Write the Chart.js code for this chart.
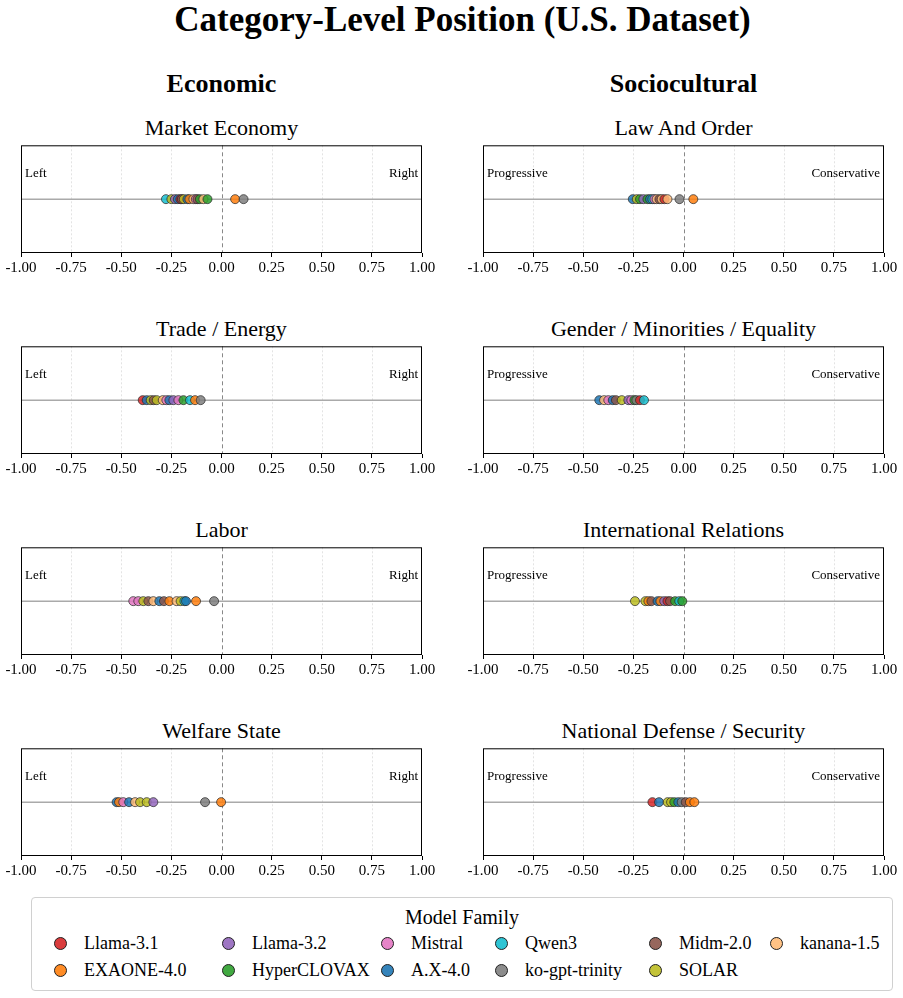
<!DOCTYPE html>
<html>
<head>
<meta charset="utf-8">
<script src="https://cdn.jsdelivr.net/npm/chart.js@4/dist/chart.umd.min.js"></script>
<style>
  html, body { margin:0; padding:0; background:#fff; overflow:hidden; }
  body { width:903px; height:998px; position:relative; font-family:"Liberation Serif", "Times New Roman", serif; color:#000; }
  .abs { position:absolute; white-space:nowrap; }
  .title { left:11px; width:903px; top:0; text-align:center; font-size:35px; font-weight:bold; line-height:40px; }
  .colhead { font-size:26px; font-weight:bold; text-align:center; width:401px; line-height:30px; }
  .subtitle { font-size:22px; text-align:center; width:401px; line-height:26px; }
  .side { font-size:13px; line-height:16px; }
  canvas.panel { position:absolute; }
  #legend { position:absolute; left:31px; top:897px; width:860px; height:92px; border:1px solid #d0d0d0; border-radius:4px; }
  #legend .ltitle { position:absolute; left:0; width:100%; top:7px; text-align:center; font-size:20px; line-height:24px; }
  #legend .item { position:absolute; font-size:18px; line-height:20px; white-space:nowrap; }
  #legend .dot { position:absolute; width:11px; height:11px; border-radius:50%; border:1px solid #222; }
</style>
</head>
<body>
<div class="abs title">Category-Level Position (U.S. Dataset)</div>
<div id="fig"></div>
<div id="legend"><div class="ltitle">Model Family</div></div>

<script>
/* ---- data: model family + position on -1 (Left/Progressive) .. +1 (Right/Conservative) ---- */
const families = ["Llama-3.1","EXAONE-4.0","Llama-3.2","HyperCLOVAX","Mistral","A.X-4.0",
                  "Qwen3","ko-gpt-trinity","Midm-2.0","SOLAR","kanana-1.5"];
const familyColors = ["#d62728","#ff7f0e","#9467bd","#2ca02c","#e377c2","#1f77b4",
                      "#17becf","#7f7f7f","#8c564b","#bcbd22","#ffbb78"];
const xTicks = [-1, -0.75, -0.5, -0.25, 0, 0.25, 0.5, 0.75, 1];

const marketEconomy = [
  ["Qwen3",-0.277],["SOLAR",-0.25],["Llama-3.2",-0.232],["A.X-4.0",-0.218],["Llama-3.1",-0.205],
  ["Midm-2.0",-0.198],["SOLAR",-0.188],["A.X-4.0",-0.17],["EXAONE-4.0",-0.16],["kanana-1.5",-0.14],
  ["Mistral",-0.128],["Midm-2.0",-0.12],["HyperCLOVAX",-0.108],["kanana-1.5",-0.09],
  ["HyperCLOVAX",-0.07],["EXAONE-4.0",0.068],["ko-gpt-trinity",0.11]
];
const lawAndOrder = [
  ["A.X-4.0",-0.253],["SOLAR",-0.233],["HyperCLOVAX",-0.217],["Llama-3.2",-0.2],["HyperCLOVAX",-0.18],
  ["A.X-4.0",-0.167],["Qwen3",-0.155],["Mistral",-0.145],["kanana-1.5",-0.134],["Midm-2.0",-0.12],
  ["kanana-1.5",-0.109],["Llama-3.1",-0.095],["kanana-1.5",-0.08],["ko-gpt-trinity",-0.02],["EXAONE-4.0",0.049]
];
const tradeEnergy = [
  ["Llama-3.1",-0.393],["A.X-4.0",-0.373],["SOLAR",-0.353],["Midm-2.0",-0.338],["SOLAR",-0.323],
  ["kanana-1.5",-0.293],["Mistral",-0.275],["A.X-4.0",-0.26],["Llama-3.2",-0.24],["Mistral",-0.215],
  ["HyperCLOVAX",-0.19],["Qwen3",-0.157],["EXAONE-4.0",-0.132],["ko-gpt-trinity",-0.104]
];
const genderMinorities = [
  ["A.X-4.0",-0.42],["kanana-1.5",-0.396],["Mistral",-0.375],["A.X-4.0",-0.353],["Midm-2.0",-0.337],
  ["SOLAR",-0.308],["Llama-3.2",-0.275],["Mistral",-0.26],["HyperCLOVAX",-0.245],["ko-gpt-trinity",-0.235],
  ["Llama-3.1",-0.217],["Qwen3",-0.197]
];
const labor = [
  ["Mistral",-0.44],["Mistral",-0.415],["SOLAR",-0.39],["Midm-2.0",-0.365],["kanana-1.5",-0.34],
  ["A.X-4.0",-0.31],["Midm-2.0",-0.287],["EXAONE-4.0",-0.26],["kanana-1.5",-0.224],["SOLAR",-0.204],
  ["Qwen3",-0.185],["A.X-4.0",-0.177],["EXAONE-4.0",-0.127],["ko-gpt-trinity",-0.037]
];
const internationalRelations = [
  ["SOLAR",-0.242],["SOLAR",-0.19],["EXAONE-4.0",-0.175],["Midm-2.0",-0.16],["A.X-4.0",-0.129],
  ["EXAONE-4.0",-0.115],["Llama-3.2",-0.096],["Llama-3.1",-0.08],["Midm-2.0",-0.067],
  ["HyperCLOVAX",-0.042],["Qwen3",-0.021],["HyperCLOVAX",-0.006]
];
const welfareState = [
  ["A.X-4.0",-0.523],["EXAONE-4.0",-0.511],["Mistral",-0.49],["A.X-4.0",-0.461],["kanana-1.5",-0.431],
  ["SOLAR",-0.406],["SOLAR",-0.373],["Llama-3.2",-0.34],["ko-gpt-trinity",-0.082],["EXAONE-4.0",-0.002]
];
const nationalDefense = [
  ["Llama-3.1",-0.155],["A.X-4.0",-0.122],["SOLAR",-0.079],["SOLAR",-0.062],["HyperCLOVAX",-0.046],
  ["A.X-4.0",-0.026],["ko-gpt-trinity",-0.009],["Midm-2.0",0.011],["EXAONE-4.0",0.032],["EXAONE-4.0",0.054]
];

const economicTitles = ["Market Economy","Trade / Energy","Labor","Welfare State"];
const economicData   = [marketEconomy, tradeEnergy, labor, welfareState];
const socialTitles   = ["Law And Order","Gender / Minorities / Equality","International Relations","National Defense / Security"];
const socialData     = [lawAndOrder, genderMinorities, internationalRelations, nationalDefense];

/* ---- layout ---- */
const BOX_W = 401, BOX_H = 109, PAD = 21, AXIS_H = 30, PAD_TOP = 4;
const COL_X = [21, 483];
const ROW_Y = [144, 345, 546, 747];
const fig = document.getElementById("fig");

function addDiv(cls, text, left, top, extra) {
  const d = document.createElement("div");
  d.className = "abs " + cls;
  d.textContent = text;
  d.style.left = left + "px";
  d.style.top = top + "px";
  if (extra) Object.assign(d.style, extra);
  fig.appendChild(d);
  return d;
}

const rgba = (hex, a) => {
  const n = parseInt(hex.slice(1), 16);
  return `rgba(${n >> 16},${(n >> 8) & 255},${n & 255},${a})`;
};

// grid lines, zero lines and box frame drawn under / over the points
const framePlugin = {
  id: "frame",
  beforeDatasetsDraw(chart) {
    const {ctx, chartArea: a, scales: {x, y}} = chart;
    ctx.save();
    ctx.lineWidth = 0.8;
    ctx.strokeStyle = "#dcdcdc";
    ctx.setLineDash([2, 2]);
    xTicks.forEach(t => {
      if (t === 0 || t === -1 || t === 1) return;
      const px = Math.round(x.getPixelForValue(t)) + 0.5;
      ctx.beginPath(); ctx.moveTo(px, a.top); ctx.lineTo(px, a.bottom); ctx.stroke();
    });
    // dashed centre line
    ctx.strokeStyle = "#888";
    ctx.lineWidth = 1;
    ctx.setLineDash([4, 3]);
    const zx = Math.round(x.getPixelForValue(0)) + 0.5;
    ctx.beginPath(); ctx.moveTo(zx, a.top); ctx.lineTo(zx, a.bottom); ctx.stroke();
    // horizontal baseline
    ctx.setLineDash([]);
    ctx.strokeStyle = "#aaa";
    ctx.lineWidth = 1.5;
    const zy = y.getPixelForValue(0);
    ctx.beginPath(); ctx.moveTo(a.left, zy); ctx.lineTo(a.right, zy); ctx.stroke();
    ctx.restore();
  },
  afterDraw(chart) {
    const {ctx, chartArea: a} = chart;
    ctx.save();
    ctx.strokeStyle = "#000";
    ctx.lineWidth = 1;
    ctx.strokeRect(a.left + 0.5, a.top + 0.5, a.right - a.left - 1, a.bottom - a.top - 1);
    ctx.restore();
  }
};

function makePanel(col, row, title, pts, leftLabel, rightLabel) {
  const bx = COL_X[col], by = ROW_Y[row];
  addDiv("subtitle", title, bx, by - 29);
  const cv = document.createElement("canvas");
  cv.className = "panel";
  cv.width = BOX_W + 2 * PAD;
  cv.height = BOX_H + PAD_TOP + AXIS_H;
  cv.style.left = (bx - PAD) + "px";
  cv.style.top = (by - PAD_TOP) + "px";
  cv.style.width = cv.width + "px";
  cv.style.height = cv.height + "px";
  fig.appendChild(cv);
  addDiv("side", leftLabel, bx + 4, by + 21);
  addDiv("side", rightLabel, bx + BOX_W - 4, by + 21, {transform: "translateX(-100%)"});

  new Chart(cv, {
    type: "scatter",
    data: {
      datasets: [{
        data: pts.map(p => ({x: p[1], y: 0})),
        backgroundColor: pts.map(p => rgba(familyColors[families.indexOf(p[0])], 0.85)),
        borderColor: "rgba(40,40,40,0.9)",
        borderWidth: 0.8,
        pointRadius: 4.5,
        pointHoverRadius: 4.5
      }]
    },
    options: {
      responsive: false,
      animation: false,
      events: [],
      layout: {padding: {left: PAD, right: PAD, top: PAD_TOP, bottom: 0}},
      plugins: {legend: {display: false}, tooltip: {enabled: false}},
      scales: {
        x: {
          type: "linear", min: -1, max: 1,
          afterBuildTicks: s => { s.ticks = xTicks.map(v => ({value: v})); },
          afterFit: s => { s.height = AXIS_H; },
          grid: {drawOnChartArea: false, drawTicks: true, tickLength: 4, tickColor: "#000", tickWidth: 1},
          border: {display: false},
          ticks: {
            color: "#000", padding: 2, maxRotation: 0, autoSkip: false,
            font: {family: "Liberation Serif", size: 15},
            callback: v => v.toFixed(2)
          }
        },
        y: {type: "linear", min: -1, max: 1, display: false}
      }
    },
    plugins: [framePlugin]
  });
}

addDiv("colhead", "Economic", COL_X[0], 69);
addDiv("colhead", "Sociocultural", COL_X[1], 69);
economicTitles.forEach((t, i) => makePanel(0, i, t, economicData[i], "Left", "Right"));
socialTitles.forEach((t, i) => makePanel(1, i, t, socialData[i], "Progressive", "Conservative"));

/* ---- legend (column-major, 2 rows) ---- */
const legendCols = [28, 196, 355, 469, 623, 744];   // marker centre x inside the box
const legendRows = [45, 72];
const legend = document.getElementById("legend");
families.forEach((f, i) => {
  const c = Math.floor(i / 2), r = i % 2;
  const dot = document.createElement("div");
  dot.className = "dot";
  dot.style.left = (legendCols[c] - 6.5) + "px";
  dot.style.top = (legendRows[r] - 6.5) + "px";
  dot.style.background = rgba(familyColors[i], 0.9);
  legend.appendChild(dot);
  const it = document.createElement("div");
  it.className = "item";
  it.textContent = f;
  it.style.left = (legendCols[c] + 24) + "px";
  it.style.top = (legendRows[r] - 10) + "px";
  legend.appendChild(it);
});
</script>
</body>
</html>
